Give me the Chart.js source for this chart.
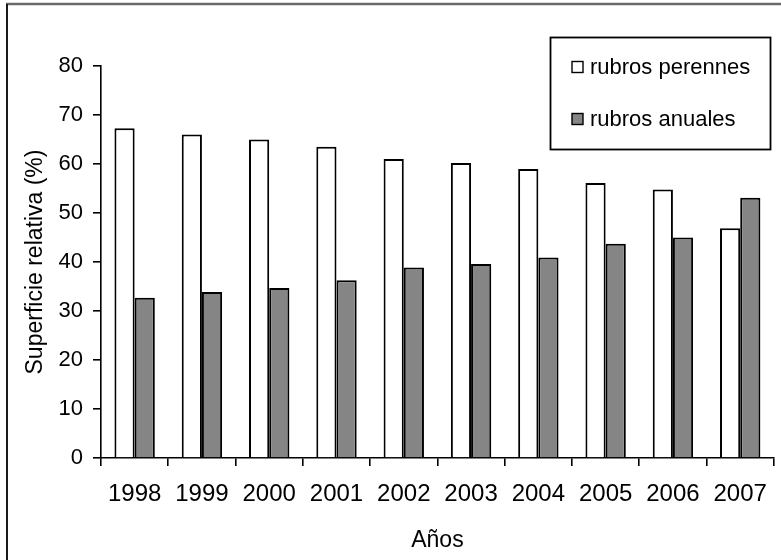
<!DOCTYPE html>
<html>
<head>
<meta charset="utf-8">
<script src="https://cdn.jsdelivr.net/npm/chart.js@4/dist/chart.umd.min.js"></script>
<style>
  html, body { margin: 0; padding: 0; background: #fff; }
  #wrap { width: 781px; height: 560px; }
</style>
</head>
<body>
<div id="wrap"><canvas id="chart" width="781" height="560"></canvas></div>
<script>
// Años del periodo
const categories = ['1998', '1999', '2000', '2001', '2002', '2003', '2004', '2005', '2006', '2007'];
// Superficie relativa (%) por tipo de rubro
const perennes = [67.3, 66.0, 65.0, 63.5, 61.0, 60.2, 59.0, 56.1, 54.8, 46.9];
const anuales  = [32.7, 33.9, 34.7, 36.3, 38.9, 39.6, 40.9, 43.7, 45.0, 53.1];
const seriesLabels = ['rubros perennes', 'rubros anuales'];
const yMin = 0, yMax = 80, yStep = 10;

const FONT = "'Liberation Sans', Arial, sans-serif";
const INK = '#000';

// white page with the outer frame (top and left rules)
const framePlugin = {
  id: 'frame',
  beforeDraw(chart) {
    const ctx = chart.ctx;
    ctx.save();
    ctx.fillStyle = '#fff';
    ctx.fillRect(0, 0, chart.width, chart.height);
    ctx.strokeStyle = '#6a6a6a';
    ctx.lineWidth = 2.5;
    ctx.beginPath();
    ctx.moveTo(6, 4);
    ctx.lineTo(chart.width, 4);
    ctx.stroke();
    ctx.strokeStyle = '#1a1a1a';
    ctx.lineWidth = 2;
    ctx.beginPath();
    ctx.moveTo(7, 4);
    ctx.lineTo(7, chart.height);
    ctx.stroke();
    ctx.restore();
  }
};

// boxed legend in the upper right corner, built from the datasets
const boxLegend = {
  id: 'boxLegend',
  afterDraw(chart) {
    const ctx = chart.ctx;
    const x0 = 550.5, y0 = 37.5, w = 220, h = 112;
    ctx.save();
    ctx.fillStyle = '#fff';
    ctx.fillRect(x0, y0, w, h);
    ctx.strokeStyle = INK;
    ctx.lineWidth = 1.8;
    ctx.strokeRect(x0, y0, w, h);
    ctx.font = '22px ' + FONT;
    ctx.textBaseline = 'middle';
    ctx.textAlign = 'left';
    chart.data.datasets.forEach((ds, i) => {
      const cy = 67 + i * 52;
      ctx.fillStyle = ds.backgroundColor;
      ctx.fillRect(572, cy - 5.5, 11, 11);
      ctx.strokeStyle = INK;
      ctx.lineWidth = 1.4;
      ctx.strokeRect(572, cy - 5.5, 11, 11);
      ctx.fillStyle = INK;
      ctx.fillText(ds.label, 590, cy + 1);
    });
    ctx.restore();
  }
};

new Chart(document.getElementById('chart'), {
  type: 'bar',
  data: {
    labels: categories,
    datasets: [
      {
        label: seriesLabels[0],
        data: perennes,
        backgroundColor: '#ffffff',
        borderColor: INK,
        borderWidth: 2,
        categoryPercentage: 0.6,
        barPercentage: 1.0
      },
      {
        label: seriesLabels[1],
        data: anuales,
        backgroundColor: '#858585',
        borderColor: INK,
        borderWidth: 2,
        categoryPercentage: 0.6,
        barPercentage: 1.0
      }
    ]
  },
  options: {
    responsive: false,
    devicePixelRatio: 1,
    animation: false,
    layout: { padding: { top: 66, right: 2, bottom: 0, left: 12 } },
    plugins: {
      legend: { display: false },
      tooltip: { enabled: false }
    },
    scales: {
      x: {
        offset: true,
        grid: {
          offset: true,
          drawOnChartArea: false,
          drawTicks: true,
          tickLength: 8,
          color: INK,
          lineWidth: 1.6
        },
        border: { display: true, color: INK, width: 1.6 },
        ticks: {
          color: INK,
          padding: 14,
          maxRotation: 0,
          font: { family: FONT, size: 24 }
        },
        title: {
          display: true,
          text: 'Años',
          color: INK,
          padding: { top: 0, bottom: 6 },
          font: { family: FONT, size: 23 }
        },
        afterFit(scale) { scale.height = 102; }
      },
      y: {
        min: yMin,
        max: yMax,
        grid: {
          drawOnChartArea: false,
          drawTicks: true,
          tickLength: 8,
          color: INK,
          lineWidth: 1.6
        },
        border: { display: true, color: INK, width: 1.6 },
        ticks: {
          stepSize: yStep,
          color: INK,
          padding: 10,
          font: { family: FONT, size: 22 }
        },
        title: {
          display: true,
          text: 'Superficie relativa (%)',
          color: INK,
          padding: { top: 10, bottom: 0 },
          font: { family: FONT, size: 23 }
        },
        afterFit(scale) { scale.width = 89; }
      }
    }
  },
  plugins: [framePlugin, boxLegend]
});
</script>
</body>
</html>
